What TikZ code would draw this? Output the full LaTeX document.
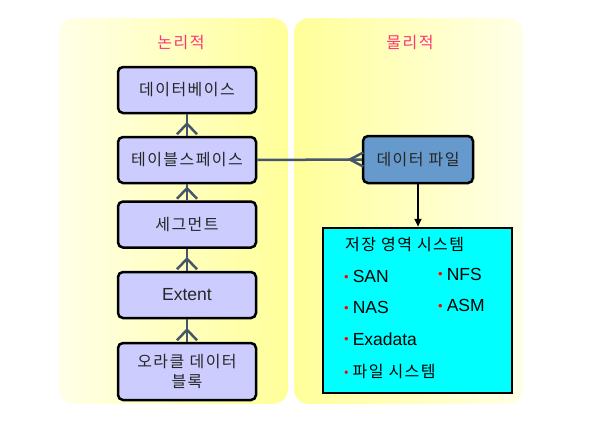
\documentclass[tikz,border=0pt]{standalone}
\usepackage{fontspec}
\setmainfont{Liberation Sans}
\newfontfamily\kr[LetterSpace=9]{Noto Sans CJK KR}
\usetikzlibrary{calc,positioning,arrows.meta}
\definecolor{PanelLight}{HTML}{FFFFE8}
\definecolor{PanelYellow}{HTML}{FFFF99}
\definecolor{LogicalBox}{HTML}{CCCCFF}
\definecolor{FileBox}{HTML}{6699CC}
\definecolor{StorageBox}{HTML}{00FFFF}
\definecolor{LinkLine}{HTML}{46566A}
\definecolor{TitleText}{HTML}{FF3377}
\newcommand{\reddot}{\textcolor{red}{\raisebox{1.5pt}{\fontsize{13}{13}\selectfont\textbullet}}\hspace{4pt}}

\tikzset{
    panel/.style={rounded corners=15pt},
    logicbox/.style={draw=black, line width=2.5pt, rounded corners=5pt,
        fill=LogicalBox, text=black!85, minimum width=138pt,
        minimum height=46pt, align=center, font=\fontsize{17.5}{20}\selectfont},
    filebox/.style={logicbox, fill=FileBox, minimum width=110pt, minimum height=47pt},
    link/.style={draw=LinkLine, line width=2.5pt},
    korean/.style={font=\kr\fontsize{16}{20}\selectfont},
    item/.style={anchor=west, inner sep=0pt, font=\fontsize{17.5}{20}\selectfont}
}

\begin{document}
\begin{tikzpicture}[x=1pt, y=-1pt]

    \useasboundingbox (0, 0) rectangle (593, 424);

    % Paneles
    \shade[panel, left color=PanelLight, right color=PanelYellow]
        (59, 18) rectangle (288, 404);
    \shade[panel, left color=PanelYellow, right color=PanelLight]
        (294, 18) rectangle (523, 404);

    \node[korean, text=TitleText] (logical) at (181, 43) {논리적};
    \node[korean, text=TitleText] (physical) at (410, 43) {물리적};

    \node[logicbox] (DB) at (187, 90) {\kr\fontsize{16}{20}\selectfont 데이터베이스};
    \node[logicbox] (TS) at (187, 160) {\kr\fontsize{16}{20}\selectfont 테이블스페이스};
    \node[logicbox] (SEG) at (187, 224.5) {\kr\fontsize{16}{20}\selectfont 세그먼트};
    \node[logicbox] (EXT) at (187, 295) {Extent};
    \node[logicbox, minimum height=57pt, text width=125pt, korean] (BLK) at (187, 371.5) {오라클 데이터\\ 블록};

    \node[filebox, korean] (DF) at (418, 159.5) {데이터 파일};
    \node[draw=black, line width=2.5pt, fill=StorageBox, minimum width=189pt,
        minimum height=165pt] (STO) at (417.5, 310.5) {};

    % Relaciones (pata de gallo)
    \foreach \upper/\lower in {DB/TS, TS/SEG, SEG/EXT, EXT/BLK} {
        \draw[link] (\upper) -- (\lower);
        \draw[link] ($(\lower.north)+(-10, -1.5)$) -- ($(\lower.north)+(0, -12)$)
            -- ($(\lower.north)+(10, -1.5)$);
    }
    \draw[link] (TS) -- (DF);
    \draw[link] ($(DF.west)+(1.5, -7)$) -- ($(DF.west)+(-12, 0)$)
        -- ($(DF.west)+(1.5, 7)$);

    \draw[line width=2pt, -{Triangle[length=8pt, width=7pt]}] (DF) -- (DF |- STO.north);

    % Contenido del sistema de almacenamiento
    \node[item, korean] (title) at (345, 245) {저장 영역 시스템};
    \node[item] (san) at (344, 276.5) {\reddot SAN};
    \node[item] (nas) at (344, 307.5) {\reddot NAS};
    \node[item] (exa) at (344, 339) {\reddot Exadata};
    \node[item, korean] (fs) at (344, 372) {\reddot 파일 시스템};
    \node[item] (nfs) at (438, 274) {\reddot NFS};
    \node[item] (asm) at (438, 305.5) {\reddot ASM};
\end{tikzpicture}
\end{document}
